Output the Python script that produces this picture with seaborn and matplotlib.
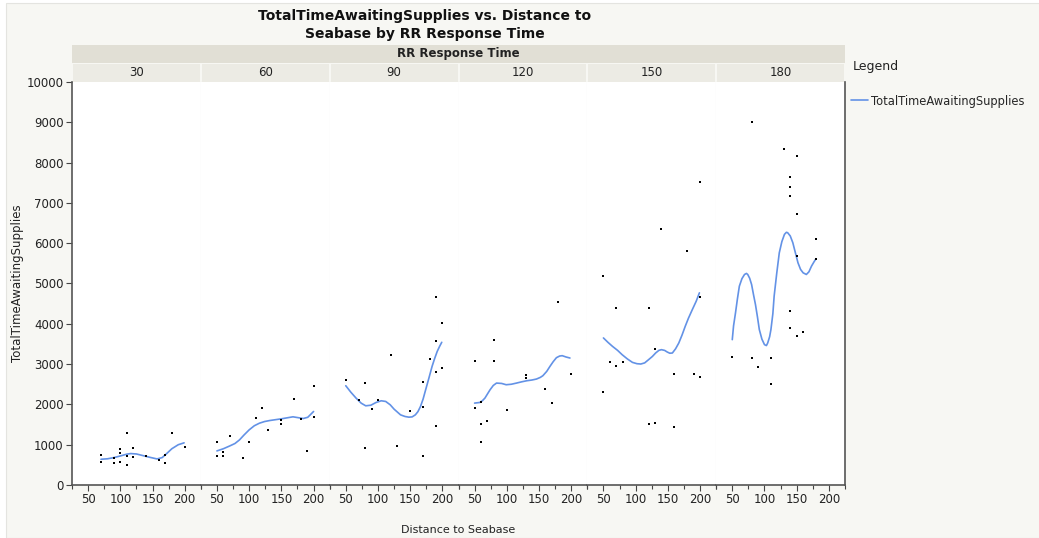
import numpy as np
import pandas as pd
import matplotlib
matplotlib.use("Agg")
import matplotlib.pyplot as plt
import seaborn as sns
from matplotlib.patches import Rectangle
from matplotlib.ticker import MultipleLocator

# RR Response Time panels
rr_times = [30, 60, 90, 120, 150, 180]

# scatter points per panel (Distance to Seabase, TotalTimeAwaitingSupplies)
dist_30 = [70, 70, 90, 90, 100, 100, 100, 110, 110, 110, 120, 120, 140, 160, 170, 170, 180, 200]
time_30 = [755, 564, 672, 548, 888, 805, 581, 1278, 714, 490, 921, 705, 714, 614, 755, 539, 1278, 954]

dist_60 = [50, 50, 60, 60, 70, 90, 100, 110, 120, 130, 150, 150, 170, 180, 190, 200, 200]
time_60 = [1070, 721, 829, 721, 1227, 672, 1070, 1667, 1907, 1368, 1625, 1517, 2139, 1642, 846, 2463, 1692]

dist_90 = [50, 70, 80, 80, 90, 100, 120, 130, 150, 170, 170, 170, 180, 190, 190, 190, 190, 200, 200]
time_90 = [2604, 2114, 2529, 912, 1882, 2106, 3226, 978, 1841, 2546, 1924, 721, 3126, 4660, 3582, 2803, 1468, 4030, 2910]

dist_120 = [50, 50, 60, 60, 60, 70, 80, 80, 100, 130, 130, 160, 170, 180, 200]
time_120 = [3068, 1907, 2065, 1526, 1061, 1584, 3599, 3068, 1857, 2736, 2662, 2388, 2040, 4536, 2753]

dist_150 = [50, 50, 60, 70, 70, 80, 120, 120, 130, 130, 140, 160, 160, 180, 190, 200, 200, 200]
time_150 = [5174, 2305, 3043, 4403, 2960, 3043, 4395, 1517, 3375, 1542, 6343, 2753, 1434, 5804, 2761, 7521, 4668, 2670]

dist_180 = [50, 80, 80, 90, 110, 110, 130, 140, 140, 140, 140, 140, 150, 150, 150, 150, 160, 180, 180]
time_180 = [3184, 8997, 3151, 2927, 3151, 2512, 8333, 7637, 7405, 7172, 4320, 3897, 8176, 6733, 5680, 3690, 3789, 6103, 5597]

# smoother curve
curve_x_30 = [70, 80, 90, 100, 110, 116, 125, 135, 145, 157, 165, 172, 180, 190, 199]
curve_y_30 = [639, 650, 680, 720, 765, 780, 770, 730, 690, 647, 680, 780, 900, 1000, 1046]

curve_x_60 = [50, 60, 70, 78, 85, 92, 100, 108, 116, 124, 132, 150, 168, 184, 191, 200]
curve_y_60 = [846, 900, 970, 1030, 1119, 1240, 1368, 1470, 1534, 1575, 1600, 1642, 1692, 1650, 1680, 1824]

curve_x_90 = [50, 58, 66, 74, 81, 89, 97, 105, 112, 119, 125, 135, 142, 148, 153, 158, 162, 166, 170, 174, 179, 184, 188, 192, 196, 199]
curve_y_90 = [2463, 2300, 2156, 2030, 1965, 1980, 2048, 2090, 2073, 1990, 1882, 1741, 1700, 1683, 1690, 1741, 1820, 1949, 2130, 2363, 2650, 2944, 3140, 3317, 3450, 3541]

curve_x_120 = [50, 58, 62, 66, 70, 74, 79, 84, 92, 99, 107, 115, 123, 131, 139, 146, 152, 156, 162, 167, 172, 177, 182, 186, 192, 198]
curve_y_120 = [2032, 2048, 2090, 2156, 2260, 2363, 2470, 2529, 2520, 2488, 2500, 2529, 2560, 2587, 2605, 2629, 2670, 2712, 2820, 2944, 3060, 3159, 3200, 3209, 3176, 3151]

curve_x_150 = [50, 57, 64, 72, 79, 87, 95, 102, 108, 114, 120, 126, 131, 136, 140, 145, 149, 153, 157, 162, 167, 172, 177, 182, 188, 194, 199]
curve_y_150 = [3649, 3540, 3441, 3340, 3234, 3130, 3043, 3010, 3002, 3030, 3109, 3190, 3275, 3340, 3358, 3340, 3300, 3270, 3275, 3380, 3524, 3720, 3939, 4140, 4353, 4560, 4768]

curve_x_180 = [50, 52, 55, 58, 61, 65, 69, 72, 74, 77, 80, 83, 86, 89, 92, 96, 100, 103, 105, 108, 110, 113, 115, 119, 123, 127, 131, 134, 136, 140, 144, 148, 152, 156, 160, 165, 169, 173, 177, 180]
curve_y_180 = [3607, 3950, 4270, 4620, 4934, 5120, 5224, 5250, 5224, 5130, 4975, 4720, 4478, 4180, 3856, 3620, 3483, 3460, 3524, 3680, 3856, 4250, 4685, 5250, 5763, 6040, 6219, 6270, 6260, 6180, 6012, 5760, 5514, 5350, 5265, 5224, 5290, 5431, 5540, 5614]

dists = [dist_30, dist_60, dist_90, dist_120, dist_150, dist_180]
times = [time_30, time_60, time_90, time_120, time_150, time_180]
curve_xs = [curve_x_30, curve_x_60, curve_x_90, curve_x_120, curve_x_150, curve_x_180]
curve_ys = [curve_y_30, curve_y_60, curve_y_90, curve_y_120, curve_y_150, curve_y_180]

points = pd.concat([pd.DataFrame({'RR Response Time': rr, 'Distance to Seabase': d,
                                  'TotalTimeAwaitingSupplies': t})
                    for rr, d, t in zip(rr_times, dists, times)], ignore_index=True)
curves = pd.concat([pd.DataFrame({'RR Response Time': rr, 'Distance to Seabase': cx,
                                  'TotalTimeAwaitingSupplies': cy})
                    for rr, cx, cy in zip(rr_times, curve_xs, curve_ys)], ignore_index=True)

sns.set_style('white')
plt.rcParams['font.family'] = ['DejaVu Sans']

W, H = 1039, 538
fig = plt.figure(figsize=(W / 100, H / 100), dpi=100)
fig.patch.set_facecolor('white')
fig.patches.append(Rectangle((6 / W, 0), 1040 / W, 535 / H, transform=fig.transFigure,
                             facecolor='#f7f7f3', edgecolor='#e4e4e0', lw=0.8, zorder=-10))

left, right = 72 / W, 845 / W
bottom, top = 1 - 485 / H, 1 - 82 / H
pw = (right - left) / 6
line_color = '#6392e6'
tick_fs = 8.5

axes = []
for i, rr in enumerate(rr_times):
    ax = fig.add_axes([left + i * pw, bottom, pw, top - bottom], sharey=axes[0] if axes else None)
    axes.append(ax)
    ax.set_facecolor('white')
    sub = points[points['RR Response Time'] == rr]
    csub = curves[curves['RR Response Time'] == rr]
    sns.lineplot(data=csub, x='Distance to Seabase', y='TotalTimeAwaitingSupplies', ax=ax,
                 color=line_color, lw=1.2, estimator=None, sort=False, legend=False)
    sns.scatterplot(data=sub, x='Distance to Seabase', y='TotalTimeAwaitingSupplies', ax=ax,
                    color='black', s=3, linewidth=0, marker='s', zorder=3)
    ax.set_xlim(25, 225)
    ax.set_ylim(0, 10000)
    ax.xaxis.set_minor_locator(MultipleLocator(25))
    ax.set_xticks([50, 100, 150, 200])
    ax.set_xlabel('')
    ax.set_ylabel('')
    ax.tick_params(axis='x', which='major', length=4, width=0.8, color='#444444',
                   labelsize=tick_fs, pad=2, bottom=True, labelcolor='#222222')
    ax.tick_params(axis='x', which='minor', length=3, width=0.8, color='#444444', bottom=True)
    ax.spines['top'].set_visible(False)
    ax.spines['bottom'].set_color('#555555')
    ax.spines['bottom'].set_linewidth(1.2)
    if i == 0:
        ax.spines['left'].set_color('#555555')
        ax.spines['left'].set_linewidth(1.2)
        ax.yaxis.set_major_locator(MultipleLocator(1000))
        ax.tick_params(axis='y', length=4, width=0.8, color='#444444', labelsize=tick_fs,
                       pad=2, left=True, labelcolor='#222222')
    else:
        ax.spines['left'].set_visible(False)
        ax.tick_params(axis='y', left=False, labelleft=False)
    if i == 5:
        ax.spines['right'].set_color('#555555')
        ax.spines['right'].set_linewidth(1.2)
    else:
        ax.spines['right'].set_color('#dcdcdc')
        ax.spines['right'].set_linewidth(0.8)

    # panel strip
    sax = fig.add_axes([left + i * pw + 1 / W, 1 - 82 / H, pw - 2 / W, 18 / H])
    sax.set_facecolor('#ecebe4')
    sax.set_xticks([])
    sax.set_yticks([])
    for s in sax.spines.values():
        s.set_visible(False)
    sax.text(0.5, 0.5, str(rr), ha='center', va='center', fontsize=tick_fs, color='#222222',
             transform=sax.transAxes)

# top strip
tax = fig.add_axes([left, 1 - 63 / H, right - left, 18 / H])
tax.set_facecolor('#e1dfd5')
tax.set_xticks([])
tax.set_yticks([])
for s in tax.spines.values():
    s.set_visible(False)
tax.text(0.5, 0.5, 'RR Response Time', ha='center', va='center', fontsize=8.5,
         fontweight='bold', color='#222222', transform=tax.transAxes)

fig.text(425 / W, 1 - 16 / H, 'TotalTimeAwaitingSupplies vs. Distance to', ha='center',
         va='center', fontsize=10, fontweight='bold', color='#111111')
fig.text(425 / W, 1 - 34 / H, 'Seabase by RR Response Time', ha='center',
         va='center', fontsize=10, fontweight='bold', color='#111111')
fig.text((left + right) / 2, 1 - 530 / H, 'Distance to Seabase', ha='center', va='center',
         fontsize=8, color='#222222')
fig.text(18 / W, (top + bottom) / 2, 'TotalTimeAwaitingSupplies', ha='center', va='center',
         rotation=90, fontsize=8.5, color='#222222')

fig.text(853 / W, 1 - 66 / H, 'Legend', ha='left', va='center', fontsize=9, color='#222222')
fig.legend(handles=[axes[0].lines[0]], labels=['TotalTimeAwaitingSupplies'],
           loc='center left', bbox_to_anchor=(851 / W, 1 - 101 / H), frameon=False,
           handlelength=1.5, handletextpad=0.25, fontsize=8.3, borderaxespad=0,
           borderpad=0, handleheight=0.7)

fig.savefig('out.png', dpi=100, facecolor=fig.get_facecolor())
